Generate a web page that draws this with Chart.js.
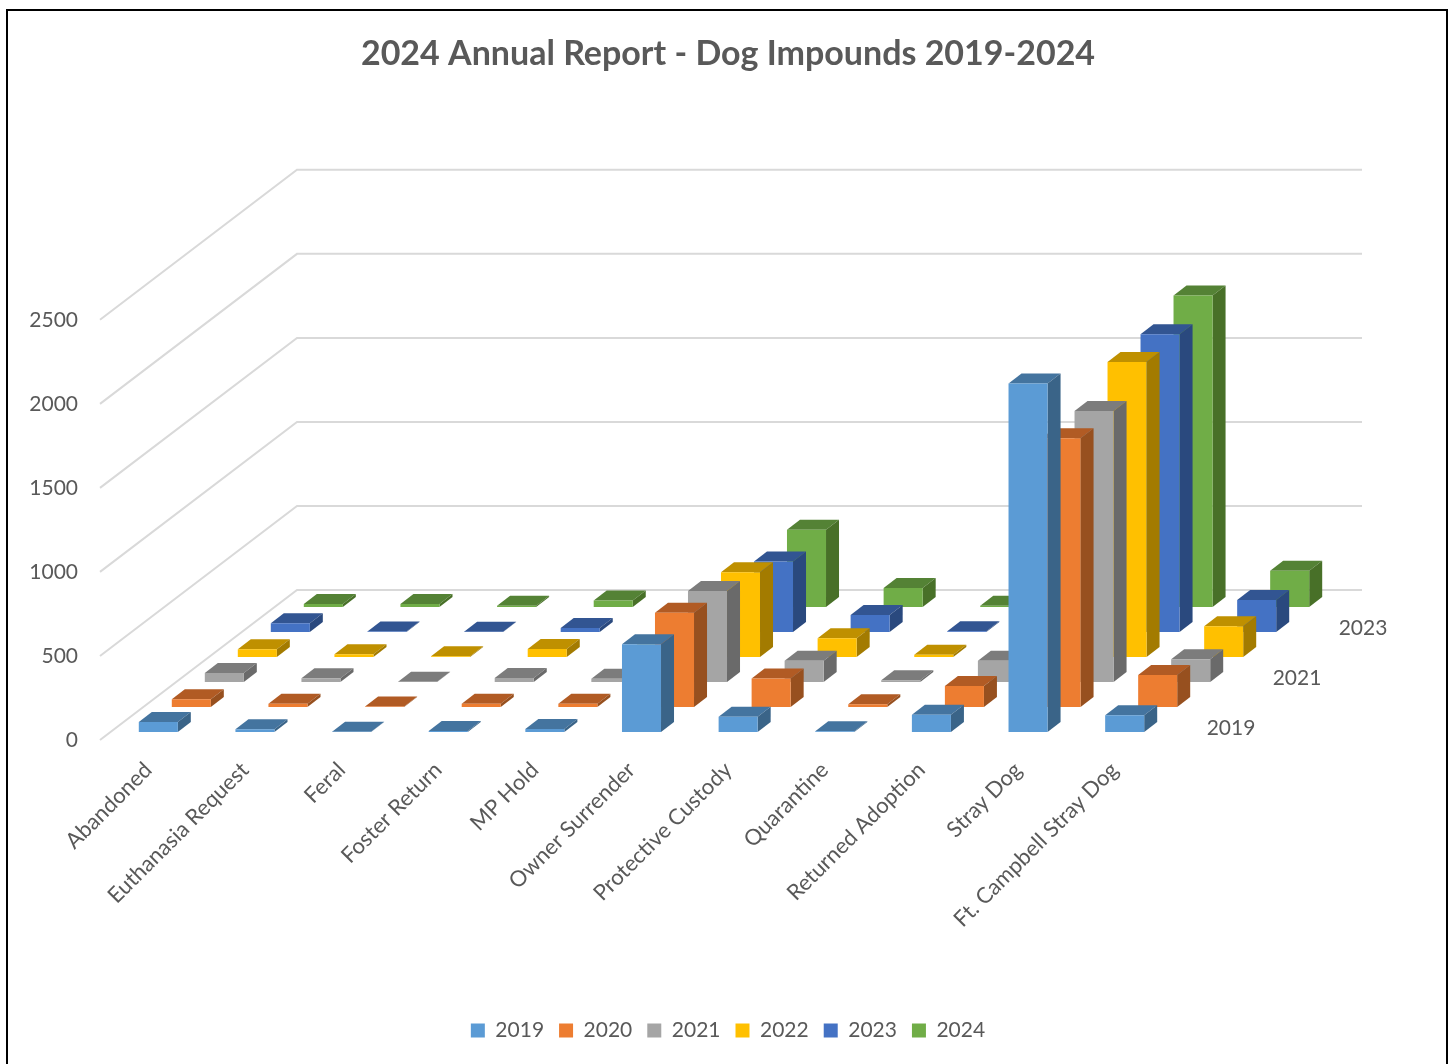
<!DOCTYPE html>
<html><head><meta charset="utf-8">
<style>
html,body{margin:0;padding:0;background:#fff;overflow:hidden}
#frame{position:absolute;left:6px;top:9px;width:1442px;height:1060px;border:2px solid #000;box-sizing:border-box}
#c{position:absolute;left:0;top:0}
</style>
<script src="https://cdn.jsdelivr.net/npm/chart.js@4"></script>
</head><body>
<div id="frame"></div>
<canvas id="c" width="1453" height="1064"></canvas>
<script>
const categories = ['Abandoned','Euthanasia Request','Feral','Foster Return','MP Hold','Owner Surrender','Protective Custody','Quarantine','Returned Adoption','Stray Dog','Ft. Campbell Stray Dog'];
const seriesNames = ['2019','2020','2021','2022','2023','2024'];
const depthLabels = ['2019','2021','2023'];
const yTicksMax = 2500;
const v2019 = [60,16,2,6,18,522,91,5,103,2073,99];
const v2020 = [46,20,3,20,20,561,170,16,125,1599,190];
const v2021 = [54,22,2,24,20,542,127,10,127,1613,135];
const v2022 = [46,16,4,48,15,504,111,14,20,1755,183];
const v2023 = [52,3,2,24,10,420,101,4,10,1772,190];
const v2024 = [18,18,8,38,10,460,113,8,10,1854,216];
const colors = ['#5B9BD5','#ED7D31','#A5A5A5','#FFC000','#4472C4','#70AD47'];
const topColors = ['#44749F','#B15B24','#7C7C7C','#BF9000','#325592','#548235'];
const sideColors = ['#3A6488','#97501F','#6A6A6A','#A37B00','#2A497E','#487028'];
const allValues = [v2019,v2020,v2021,v2022,v2023,v2024];

const GEO = {stepX:33, stepY:25, startX:10, startY:8, topX:13, topY:10, wallX:197, wallY:150, wallRight:1362};
const TEXT = '#595959';
const FONT = 'Lato';

function poly(ctx, pts, fill){
  ctx.beginPath();
  pts.forEach((p,i)=> i?ctx.lineTo(p[0],p[1]):ctx.moveTo(p[0],p[1]));
  ctx.closePath();
  ctx.fillStyle = fill;
  ctx.fill();
}

const threeD = {
  id:'threeD',
  beforeDatasetsDraw(chart){
    const {ctx, scales:{x,y}} = chart;
    ctx.save();
    ctx.strokeStyle='#D9D9D9';
    ctx.lineWidth=2;
    ctx.lineJoin='miter';
    y.ticks.forEach(t=>{
      const p=y.getPixelForValue(t.value);
      ctx.beginPath();
      ctx.moveTo(x.left,p);
      ctx.lineTo(x.left+GEO.wallX,p-GEO.wallY);
      ctx.lineTo(GEO.wallRight,p-GEO.wallY);
      ctx.stroke();
    });
    ctx.restore();
  },
  beforeDatasetDraw(chart,args){
    const {ctx} = chart;
    const s=args.index;
    const c=colors[s], tc=topColors[s], sc=sideColors[s];
    const ox=GEO.startX+GEO.stepX*s, oy=-(GEO.startY+GEO.stepY*s);
    args.meta.data.forEach(el=>{
      const w=el.width;
      const l=el.x-w/2+ox, r=l+w, t=el.y+oy, b=el.base+oy;
      const dx=GEO.topX, dy=GEO.topY;
      poly(ctx,[[l,t],[r,t],[r+dx,t-dy],[l+dx,t-dy]],tc);
      poly(ctx,[[r,t],[r+dx,t-dy],[r+dx,b-dy],[r,b]],sc);
      poly(ctx,[[l,t],[r,t],[r,b],[l,b]],c);
    });
    return false;
  },
  afterDatasetsDraw(chart){
    const {ctx, scales:{x,y}} = chart;
    ctx.save();
    ctx.fillStyle=TEXT;
    ctx.font='21px '+FONT;
    ctx.textAlign='center';
    ctx.textBaseline='middle';
    depthLabels.forEach(lbl=>{
      const s=seriesNames.indexOf(lbl);
      ctx.fillText(lbl, x.right+68+GEO.stepX*s, y.bottom-12-GEO.stepY*s);
    });
    ctx.restore();
  }
};

new Chart(document.getElementById('c'),{
  type:'bar',
  data:{
    labels:categories,
    datasets:seriesNames.map((n,i)=>({label:n,data:allValues[i],backgroundColor:colors[i],borderWidth:0,grouped:false,barPercentage:0.404,categoryPercentage:1}))
  },
  plugins:[threeD],
  options:{
    responsive:false,
    animation:false,
    events:[],
    layout:{padding:{left:3,right:0,top:0,bottom:13}},
    plugins:{
      tooltip:{enabled:false},
      title:{display:true,text:'2024 Annual Report - Dog Impounds 2019-2024',color:TEXT,font:{family:FONT,size:34,weight:'bold',lineHeight:1.2},padding:{top:34,bottom:245}},
      legend:{position:'bottom',labels:{color:TEXT,font:{family:FONT,size:21},boxWidth:14,boxHeight:14,padding:15}}
    },
    scales:{
      x:{
        type:'category',offset:true,
        grid:{display:false},border:{display:false},
        ticks:{autoSkip:false,minRotation:45,maxRotation:45,color:TEXT,font:{family:FONT,size:22},padding:9},
        afterFit(s){s.height=265;}
      },
      y:{
        type:'linear',min:0,max:yTicksMax,
        grid:{display:false,drawTicks:false},border:{display:false},
        ticks:{stepSize:500,color:TEXT,font:{family:FONT,size:21},padding:22,callback:v=>String(v)},
        afterFit(s){s.width=97;}
      },
      y2:{
        type:'linear',position:'right',min:0,max:1,display:true,
        grid:{display:false,drawTicks:false},border:{display:false},
        ticks:{display:false},
        afterFit(s){s.width=290;}
      }
    }
  }
});
</script>
</body></html>
